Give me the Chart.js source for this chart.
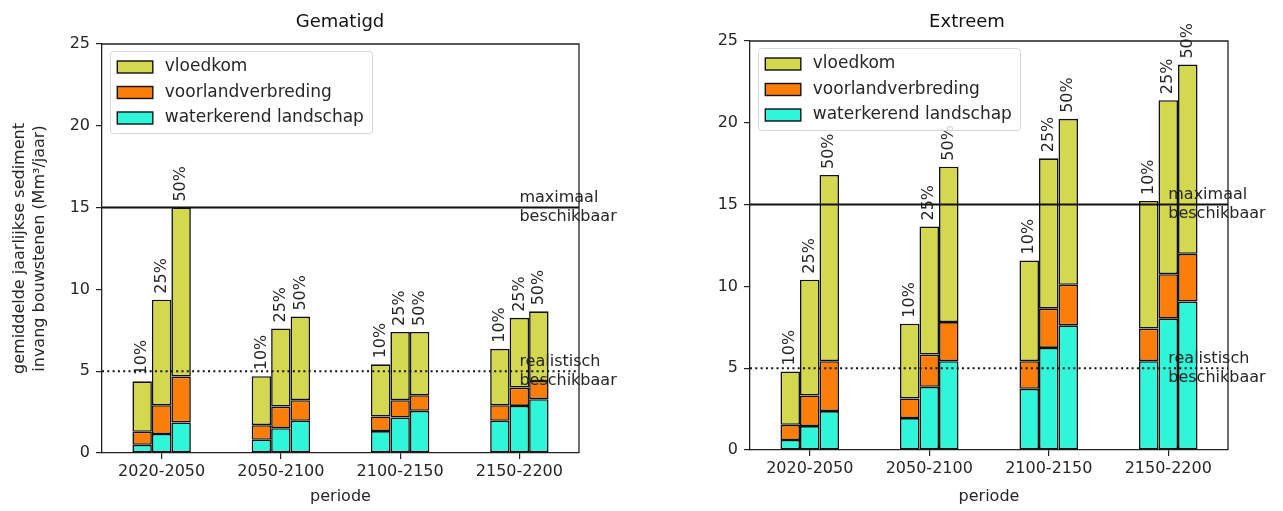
<!DOCTYPE html>
<html>
<head>
<meta charset="utf-8">
<script src="https://cdn.jsdelivr.net/npm/chart.js"></script>
<style>
  body { margin: 0; background: #fff; }
  .box { position: absolute; top: 0; height: 511px; }
  #leftBox { left: 0; width: 640px; }
  #rightBox { left: 640px; width: 643px; }
</style>
</head>
<body>

<div class="box" id="leftBox"><canvas id="chartGematigd" width="640" height="511"></canvas></div>
<div class="box" id="rightBox"><canvas id="chartExtreem" width="643" height="511"></canvas></div>

<script type="text/javascript">
    const periods = ['2020-2050', '2050-2100', '2100-2150', '2150-2200'];
    const percentages = ['10%', '25%', '50%'];
    const yTicks = [0, 5, 10, 15, 20, 25];
    const maxAvailable = 15;
    const realisticAvailable = 5;

    // rows: 10%, 25%, 50% -- columns: periods
    const gematigdWaterkerend = [
        [0.50, 0.81, 1.34, 1.97],
        [1.16, 1.52, 2.17, 2.88],
        [1.87, 1.97, 2.58, 3.29]
    ];
    const gematigdVoorland = [
        [0.80, 0.89, 0.89, 0.95],
        [1.76, 1.32, 1.06, 1.12],
        [2.80, 1.26, 0.95, 1.11]
    ];
    const gematigdVloedkom = [
        [3.08, 2.99, 3.19, 3.45],
        [6.45, 4.77, 4.17, 4.26],
        [10.33, 5.11, 3.87, 4.26]
    ];

    const extreemWaterkerend = [
        [0.61, 1.95, 3.74, 5.43],
        [1.46, 3.86, 6.24, 8.03],
        [2.38, 5.43, 7.62, 9.07]
    ];
    const extreemVoorland = [
        [0.93, 1.20, 1.69, 1.99],
        [1.87, 1.97, 2.40, 2.72],
        [3.05, 2.39, 2.48, 2.92]
    ];
    const extreemVloedkom = [
        [3.26, 4.57, 6.16, 7.80],
        [7.08, 7.83, 9.19, 10.63],
        [11.38, 9.50, 10.14, 11.57]
    ];

    const legendNames = ['vloedkom', 'voorlandverbreding', 'waterkerend landschap'];
    const legendColors = ['#d4d84f', '#fb7e0a', '#2ff6d9'];

    Chart.defaults.font.family = "'DejaVu Sans', sans-serif";
    Chart.defaults.font.size = 16;
    Chart.defaults.font.lineHeight = 1.25;
    Chart.defaults.color = '#262626';

    function buildDatasets(water, voorland, vloed) {
        let sets = [];
        percentages.forEach((p, i) => {
            sets.push({ label: legendNames[2], data: water[i], stack: p, backgroundColor: legendColors[2] });
            sets.push({ label: legendNames[1], data: voorland[i], stack: p, backgroundColor: legendColors[1] });
            sets.push({ label: legendNames[0], data: vloed[i], stack: p, backgroundColor: legendColors[0], percent: p });
        });
        sets.forEach(s => {
            s.borderColor = '#111';
            s.borderWidth = 1.6;
            s.borderSkipped = false;
            s.categoryPercentage = 0.49;
            s.barPercentage = 1.0;
        });
        return sets;
    }

    const decorPlugin = {
        id: 'decor',
        afterDatasetsDraw(chart, args, opts) {
            const ctx = chart.ctx;
            const a = chart.chartArea;
            const x = chart.scales.x;
            const y = chart.scales.y;

            // percentage labels above every bar
            ctx.save();
            ctx.fillStyle = '#262626';
            ctx.font = "16px 'DejaVu Sans'";
            chart.data.datasets.forEach((ds, di) => {
                if (!ds.percent) return;
                chart.getDatasetMeta(di).data.forEach(bar => {
                    ctx.save();
                    ctx.translate(bar.x, bar.y - 6);
                    ctx.rotate(-Math.PI / 2);
                    ctx.textAlign = 'left';
                    ctx.textBaseline = 'middle';
                    ctx.fillText(ds.percent, 0, 0);
                    ctx.restore();
                });
            });
            ctx.restore();

            // availability lines
            ctx.save();
            ctx.strokeStyle = '#111';
            ctx.lineWidth = 2;
            let yMax = y.getPixelForValue(maxAvailable);
            ctx.beginPath(); ctx.moveTo(a.left, yMax); ctx.lineTo(a.right, yMax); ctx.stroke();
            let yReal = y.getPixelForValue(realisticAvailable);
            ctx.setLineDash([2, 3.3]);
            ctx.beginPath(); ctx.moveTo(a.left, yReal); ctx.lineTo(a.right, yReal); ctx.stroke();
            ctx.restore();

            ctx.save();
            ctx.fillStyle = '#262626';
            ctx.font = "16px 'DejaVu Sans'";
            ctx.textAlign = 'left';
            ctx.textBaseline = 'middle';
            let tx = x.getPixelForValue(periods.length - 1);
            ctx.fillText('maximaal', tx, yMax - 9.5);
            ctx.fillText('beschikbaar', tx, yMax + 9.5);
            ctx.fillText('realistisch', tx, yReal - 9.5);
            ctx.fillText('beschikbaar', tx, yReal + 9.5);
            ctx.restore();

            // top and right spines
            ctx.save();
            ctx.strokeStyle = '#222';
            ctx.lineWidth = 1.3;
            ctx.beginPath();
            ctx.moveTo(a.left, a.top); ctx.lineTo(a.right, a.top); ctx.lineTo(a.right, a.bottom);
            ctx.stroke();
            ctx.restore();

            // legend
            ctx.save();
            let fx = a.left + 8.5, fy = a.top + 7.5, fw = 262, fh = 82;
            ctx.fillStyle = 'rgba(255,255,255,0.8)';
            ctx.strokeStyle = '#d6d6d6';
            ctx.lineWidth = 1;
            ctx.beginPath();
            ctx.roundRect(fx, fy, fw, fh, 3);
            ctx.fill();
            ctx.stroke();
            ctx.font = "17px 'DejaVu Sans'";
            ctx.textBaseline = 'middle';
            legendNames.forEach((name, i) => {
                let cy = a.top + 23 + i * 25.5;
                ctx.fillStyle = legendColors[i];
                ctx.fillRect(a.left + 15.3, cy - 6, 35.5, 12);
                ctx.strokeStyle = '#111';
                ctx.lineWidth = 1.4;
                ctx.strokeRect(a.left + 15.3, cy - 6, 35.5, 12);
                ctx.fillStyle = '#262626';
                ctx.fillText(name, a.left + 62.8, cy);
            });
            ctx.restore();

            // title
            ctx.save();
            ctx.fillStyle = '#111';
            ctx.font = "18px 'DejaVu Sans'";
            ctx.textAlign = 'center';
            ctx.textBaseline = 'alphabetic';
            ctx.fillText(opts.title, opts.titleX, 27);
            ctx.restore();
        }
    };

    function makeChart(canvasId, title, titleX, water, voorland, vloed, pad, yWidth, xHeight, showYTitle) {
        return new Chart(document.getElementById(canvasId), {
            type: 'bar',
            data: {
                labels: periods,
                datasets: buildDatasets(water, voorland, vloed)
            },
            options: {
                responsive: false,
                animation: false,
                devicePixelRatio: 1,
                layout: { padding: pad },
                plugins: {
                    legend: { display: false },
                    tooltip: { enabled: false },
                    decor: { title: title, titleX: titleX }
                },
                scales: {
                    x: {
                        stacked: true,
                        grid: { display: true, drawOnChartArea: false, drawTicks: true, tickLength: 6, offset: false, color: '#222', lineWidth: 1.2 },
                        border: { display: true, color: '#222', width: 1.3 },
                        ticks: { padding: 3, maxRotation: 0 },
                        title: { display: true, text: 'periode', padding: { top: 0, bottom: 4 } },
                        afterFit: s => { s.height = xHeight; }
                    },
                    y: {
                        stacked: true,
                        min: 0,
                        max: 25,
                        afterBuildTicks: s => { s.ticks = yTicks.map(v => ({ value: v })); },
                        grid: { display: true, drawOnChartArea: false, drawTicks: true, tickLength: 6, color: '#222', lineWidth: 1.2 },
                        border: { display: true, color: '#222', width: 1.3 },
                        ticks: { padding: 6 },
                        title: {
                            display: showYTitle,
                            text: ['gemiddelde jaarlijkse sediment', 'invang bouwstenen (Mm³/jaar)'],
                            padding: { top: 10, bottom: 0 }
                        },
                        afterFit: s => { s.width = yWidth; }
                    }
                }
            },
            plugins: [decorPlugin]
        });
    }

    makeChart('chartGematigd', 'Gematigd', 340, gematigdWaterkerend, gematigdVoorland, gematigdVloedkom,
        { left: 0, top: 44, right: 61, bottom: 0 }, 102, 58, true);
    makeChart('chartExtreem', 'Extreem', 327, extreemWaterkerend, extreemVoorland, extreemVloedkom,
        { left: 0, top: 41, right: 55, bottom: 0 }, 110, 61, false);
</script>
</body>
</html>
